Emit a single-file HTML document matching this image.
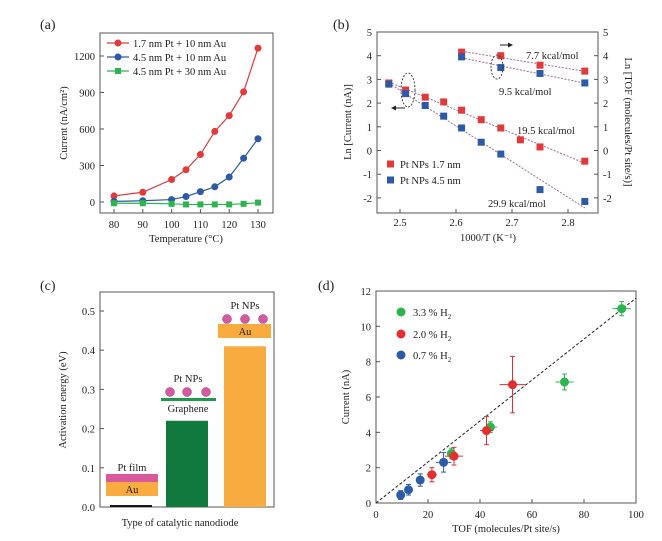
<!DOCTYPE html>
<html><head><meta charset="utf-8"><style>
html,body{margin:0;padding:0;background:#fff}
svg{display:block;font-family:"Liberation Serif",serif;}
</style></head><body>
<svg id="fig" width="662" height="541" viewBox="0 0 662 541"></svg>
<script>
// ---------- Panel (a) data ----------
const aTemps=[80,90,100,105,110,115,120,125,130];
const aRed=[50,80,185,265,390,580,710,905,1265];
const aBlue=[5,10,20,45,85,125,205,360,520];
const aGreen=[-10,-10,-15,-20,-20,-20,-20,-15,-5];
const aYTicks=[0,300,600,900,1200];
const aXTicks=[80,90,100,110,120,130];
// ---------- Panel (b) data ----------
const bXRed=[2.48,2.51,2.545,2.578,2.61,2.645,2.68,2.715,2.75,2.83];
const bYRed=[2.85,2.55,2.25,2.05,1.7,1.3,0.95,0.45,0.15,-0.45];
const bXBlue=[2.48,2.51,2.545,2.578,2.61,2.645,2.68,2.75,2.83];
const bYBlue=[2.8,2.4,1.9,1.45,0.95,0.35,-0.15,-1.65,-2.15];
const bXRedTOF=[2.61,2.68,2.75,2.83];
const bYRedTOF=[4.15,4.0,3.6,3.35];
const bXBlueTOF=[2.61,2.68,2.75,2.83];
const bYBlueTOF=[3.95,3.5,3.25,2.85];
const bYTicks=[-2,-1,0,1,2,3,4,5];
const bXTicks=[2.5,2.6,2.7,2.8];
// ---------- Panel (c) data ----------
const cCats=["Pt film","Graphene","Au"];
const cVals=[0.005,0.22,0.41];
const cYTicks=[0,0.1,0.2,0.3,0.4,0.5];
// ---------- Panel (d) data ----------
const dGreenX=[94.5,72.5,44,29], dGreenY=[11.0,6.85,4.3,2.8], dGreenEX=[3.5,3.5,2.5,1], dGreenEY=[0.4,0.45,0.3,0.3];
const dRedX=[52.5,42.5,30,21.5], dRedY=[6.7,4.1,2.65,1.6], dRedEX=[5,2.5,3.5,2], dRedEY=[1.6,0.8,0.5,0.4];
const dBlueX=[26,17,12.5,9.5], dBlueY=[2.3,1.3,0.75,0.45], dBlueEX=[3,1.5,1.5,1.5], dBlueEY=[0.55,0.35,0.3,0.25];
const dFitEnd=11.6;
const dXTicks=[0,20,40,60,80,100];
const dYTicks=[0,2,4,6,8,10,12];

const NS="http://www.w3.org/2000/svg";
const svg=document.getElementById('fig');
function el(tag,attrs,parent,text){
  const e=document.createElementNS(NS,tag);
  for(const k in attrs)e.setAttribute(k,attrs[k]);
  if(text!==undefined)e.textContent=text;
  (parent||svg).appendChild(e);return e;
}
function txt(x,y,s,opts,name){
  const t=el('text',Object.assign({x:x,y:y,'font-size':11,fill:'#222'},opts||{}),null,s);
  
  
  return t;
}
function box(x1,y1,x2,y2,name){
  const r=el('rect',{x:x1,y:y1,width:x2-x1,height:y2-y1,fill:'none',stroke:'#555','stroke-width':1});
  
  
}
function tick(x1,y1,x2,y2){const l=el('line',{x1,y1,x2,y2,stroke:'#555','stroke-width':1});
  
  }

// ===== Panel (a) =====
const ax=v=>114+(v-80)*(144/50), ay=v=>202-v*(146/1200);
txt(40,29,'(a)',{'font-size':14},'panel-a-label');
box(100,33,273,213,'panel-a-plot-area');
aYTicks.forEach(v=>{tick(100,ay(v),104,ay(v));txt(95,ay(v)+4,String(v),{'text-anchor':'end','font-size':10.5},'a-y-tick-label');});
aXTicks.forEach(v=>{tick(ax(v),213,ax(v),209);txt(ax(v),228,String(v),{'text-anchor':'middle','font-size':10.5},'a-x-tick-label');});
txt(186,242,'Temperature (°C)',{'text-anchor':'middle','font-size':10.5},'a-x-axis-title');
txt(0,0,'Current (nA/cm²)',{'text-anchor':'middle','font-size':10.5,transform:'translate(67,123) rotate(-90)'},'a-y-axis-title');
function aSeries(ys,color,shape,name){
  const pts=aTemps.map((t,i)=>ax(t)+','+ay(ys[i])).join(' ');
  const p=el('polyline',{points:pts,fill:'none',stroke:color,'stroke-width':1.2});
  
  
  aTemps.forEach((t,i)=>{
    let m;
    if(shape==='c')m=el('circle',{cx:ax(t),cy:ay(ys[i]),r:3.5,fill:color});
    else m=el('rect',{x:ax(t)-3,y:ay(ys[i])-3,width:6,height:6,fill:color});
    
    
  });
}
aSeries(aRed,'#e03a3a','c','a-red-series');
aSeries(aBlue,'#2c5aa6','c','a-blue-series');
aSeries(aGreen,'#2cb54f','s','a-green-series');
[['1.7 nm Pt + 10 nm Au','#e03a3a','c',43],['4.5 nm Pt + 10 nm Au','#2c5aa6','c',57],['4.5 nm Pt + 30 nm Au','#2cb54f','s',71]].forEach(([s,c,sh,y])=>{
  const l=el('line',{x1:107,y1:y,x2:129,y2:y,stroke:c,'stroke-width':1.2});
  
  
  let m=sh==='c'?el('circle',{cx:118,cy:y,r:3.5,fill:c}):el('rect',{x:115,y:y-3,width:6,height:6,fill:c});
  
  
  txt(133,y+4,s,{'font-size':10.5},'a-legend-entry');
});

// ===== Panel (b) =====
const bx=v=>400+(v-2.5)*560, by=v=>32+(5-v)*23.7;
txt(333,29,'(b)',{'font-size':14},'panel-b-label');
box(377,32,598,213,'panel-b-plot-area');
bYTicks.forEach(v=>{tick(377,by(v),381,by(v));tick(598,by(v),594,by(v));
  txt(372,by(v)+4,String(v),{'text-anchor':'end','font-size':10.5},'b-left-tick-label');
  txt(603,by(v)+4,String(v),{'font-size':10.5},'b-right-tick-label');});
bXTicks.forEach(v=>{tick(bx(v),213,bx(v),209);txt(bx(v),226,String(v),{'text-anchor':'middle','font-size':10.5},'b-x-tick-label');});
txt(488,241,'1000/T (K⁻¹)',{'text-anchor':'middle','font-size':10.5},'b-x-axis-title');
txt(0,0,'Ln [Current (nA)]',{'text-anchor':'middle','font-size':10.5,transform:'translate(351,122) rotate(-90)'},'b-left-axis-title');
txt(0,0,'Ln [TOF (molecules/Pt site/s)]',{'text-anchor':'middle','font-size':10.5,transform:'translate(625,122) rotate(90)'},'b-right-axis-title');
function bSeries(xs,ys,color,name){
  const n=xs.length;let sx=0,sy=0,sxx=0,sxy=0;
  xs.forEach((x,i)=>{sx+=x;sy+=ys[i];sxx+=x*x;sxy+=x*ys[i];});
  const m=(n*sxy-sx*sy)/(n*sxx-sx*sx),b=(sy-m*sx)/n;
  const f=el('line',{x1:bx(xs[0]),y1:by(m*xs[0]+b),x2:bx(xs[n-1]),y2:by(m*xs[n-1]+b),stroke:'#a06a9a','stroke-width':1,'stroke-dasharray':'2,1.5'});
  
  
  xs.forEach((x,i)=>{const r=el('rect',{x:bx(x)-3.5,y:by(ys[i])-3.5,width:7,height:7,fill:color});
    
    });
}
bSeries(bXRed,bYRed,'#e23a3a','b-red-current');
bSeries(bXBlue,bYBlue,'#2c5aa6','b-blue-current');
bSeries(bXRedTOF,bYRedTOF,'#e23a3a','b-red-tof');
bSeries(bXBlueTOF,bYBlueTOF,'#2c5aa6','b-blue-tof');
txt(526,59,'7.7 kcal/mol',{'font-size':10.5},'b-annotation-7-7');
txt(499,95,'9.5 kcal/mol',{'font-size':10.5},'b-annotation-9-5');
txt(517,134,'19.5 kcal/mol',{'font-size':10.5},'b-annotation-19-5');
txt(488,207,'29.9 kcal/mol',{'font-size':10.5},'b-annotation-29-9');
[[408,90,7,17],[497,67,6,12]].forEach(([cx,cy,rx,ry])=>{const e=el('ellipse',{cx,cy,rx,ry,fill:'none',stroke:'#333','stroke-dasharray':'2,1.5','stroke-width':0.9});
  
  });
el('line',{x1:405,y1:108,x2:394,y2:108,stroke:'#222'});el('path',{d:'M391,108 l5,-2.5 v5z',fill:'#222'});
el('line',{x1:500,y1:45,x2:510,y2:45,stroke:'#222'});el('path',{d:'M513,45 l-5,-2.5 v5z',fill:'#222'});
[['Pt NPs 1.7 nm','#e23a3a',164],['Pt NPs 4.5 nm','#2c5aa6',180]].forEach(([s,c,y])=>{
  const r=el('rect',{x:387,y:y-3.5,width:7,height:7,fill:c});
  
  
  txt(400,y+4,s,{'font-size':10.5},'b-legend-entry');});

// ===== Panel (c) =====
const cy0=507, cyv=v=>cy0-v*392;
const cBarX=[110,166,224], cBarW=42, cColors=['#111','#0f7a3c','#f8ab3e'];
txt(40,290,'(c)',{'font-size':14},'panel-c-label');
box(100,292,274,507,'panel-c-plot-area');
cYTicks.forEach(v=>{tick(100,cyv(v),104,cyv(v));txt(95,cyv(v)+4,v.toFixed(1),{'text-anchor':'end','font-size':10.5},'c-y-tick-label');});
cVals.forEach((v,i)=>{const r=el('rect',{x:cBarX[i],y:cyv(v),width:cBarW,height:cy0-cyv(v),fill:cColors[i]});
  
  });
txt(180,526,'Type of catalytic nanodiode',{'text-anchor':'middle','font-size':10.5},'c-x-axis-title');
txt(0,0,'Activation energy (eV)',{'text-anchor':'middle','font-size':10.5,transform:'translate(66,400) rotate(-90)'},'c-y-axis-title');
// schematics
el('rect',{x:106,y:474,width:52,height:8,fill:'#d95a9c'});
el('rect',{x:106,y:482,width:52,height:14,fill:'#f8ab3e'});
txt(132,493,'Au',{'text-anchor':'middle','font-size':10.5},'c-au-label');
txt(132,471,'Pt film',{'text-anchor':'middle','font-size':10.5},'c-pt-film-label');
txt(188,382,'Pt NPs',{'text-anchor':'middle','font-size':10.5},'c-ptnps-label-1');
[170,187,206].forEach(x=>el('circle',{cx:x,cy:392,r:4.5,fill:'#d45aa0',stroke:'#a03a7a','stroke-width':0.5}));
el('rect',{x:161,y:398,width:55,height:3,fill:'#1d9a4a'});
txt(188,412,'Graphene',{'text-anchor':'middle','font-size':10.5},'c-graphene-label');
txt(245,309,'Pt NPs',{'text-anchor':'middle','font-size':10.5},'c-ptnps-label-2');
[227,245,263].forEach(x=>el('circle',{cx:x,cy:319,r:4.5,fill:'#d45aa0',stroke:'#a03a7a','stroke-width':0.5}));
el('rect',{x:218,y:324,width:53,height:14,fill:'#f8ab3e'});
txt(245,335,'Au',{'text-anchor':'middle','font-size':10.5},'c-au-label-2');

// ===== Panel (d) =====
const dx=v=>376+v*2.6, dy=v=>503-v*(212/12);
txt(318,290,'(d)',{'font-size':14},'panel-d-label');
box(376,291,636,503,'panel-d-plot-area');
dYTicks.forEach(v=>{tick(376,dy(v),380,dy(v));txt(371,dy(v)+4,String(v),{'text-anchor':'end','font-size':10.5},'d-y-tick-label');});
dXTicks.forEach(v=>{tick(dx(v),503,dx(v),499);txt(dx(v),518,String(v),{'text-anchor':'middle','font-size':10.5},'d-x-tick-label');});
txt(506,532,'TOF (molecules/Pt site/s)',{'text-anchor':'middle','font-size':10.5},'d-x-axis-title');
txt(0,0,'Current (nA)',{'text-anchor':'middle','font-size':10.5,transform:'translate(349,397) rotate(-90)'},'d-y-axis-title');
const fit=el('line',{x1:dx(0),y1:dy(0),x2:dx(100),y2:dy(dFitEnd),stroke:'#222','stroke-width':1,'stroke-dasharray':'3,2'});


function dSeries(xs,ys,exs,eys,color,name){
  xs.forEach((x,i)=>{
    const g=el('g',{stroke:color,'stroke-width':1});
    el('line',{x1:dx(x-exs[i]),y1:dy(ys[i]),x2:dx(x+exs[i]),y2:dy(ys[i])},g);
    el('line',{x1:dx(x),y1:dy(ys[i]-eys[i]),x2:dx(x),y2:dy(ys[i]+eys[i])},g);
    el('line',{x1:dx(x)-2.5,y1:dy(ys[i]-eys[i]),x2:dx(x)+2.5,y2:dy(ys[i]-eys[i])},g);
    el('line',{x1:dx(x)-2.5,y1:dy(ys[i]+eys[i]),x2:dx(x)+2.5,y2:dy(ys[i]+eys[i])},g);
    
    
    const c=el('circle',{cx:dx(x),cy:dy(ys[i]),r:4.5,fill:color});
    
    
  });
}
dSeries(dGreenX,dGreenY,dGreenEX,dGreenEY,'#2cb54f','d-green');
dSeries(dRedX,dRedY,dRedEX,dRedEY,'#e23030','d-red');
dSeries(dBlueX,dBlueY,dBlueEX,dBlueEY,'#2c5aa6','d-blue');
[['3.3 % H','#2cb54f',312],['2.0 % H','#e23030',334],['0.7 % H','#2c5aa6',355]].forEach(([s,c,y])=>{
  const m=el('circle',{cx:401,cy:y,r:4.5,fill:c});
  
  
  const t=txt(413,y+4,s,{'font-size':10.5},'d-legend-entry');
  el('tspan',{'font-size':7,dy:3},t,'2');
});
</script>
</body></html>
